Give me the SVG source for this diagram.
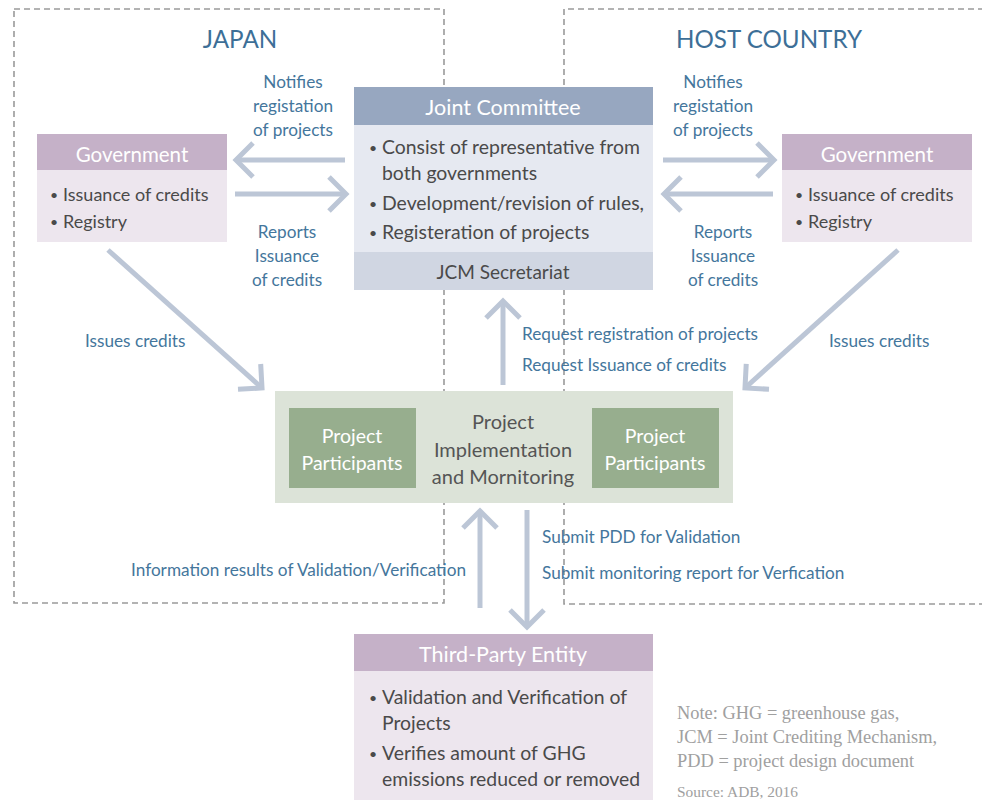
<svg xmlns="http://www.w3.org/2000/svg" width="982" height="800" viewBox="0 0 982 800">
  <style>
    .zone { fill: none; stroke: #9a9a9a; stroke-width: 1.6; stroke-dasharray: 6 4; }
    .title { font-family: Lato, "Open Sans", sans-serif; font-size: 24.2px; fill: #3d6f97; text-anchor: middle; }
    .lbl { font-family: Lato, "Open Sans", sans-serif; font-size: 17.2px; fill: #44769c; }
    .mid { text-anchor: middle; }
    .head { font-family: Lato, "Open Sans", sans-serif; font-size: 21.5px; fill: #ffffff; text-anchor: middle; }
    .body { font-family: Lato, "Open Sans", sans-serif; font-size: 19.4px; fill: #4a4a4a; }
    .dot { font-family: Lato, "Open Sans", sans-serif; font-size: 14px; fill: #4a4a4a; }
    .pp { font-family: Lato, "Open Sans", sans-serif; font-size: 19.5px; fill: #ffffff; text-anchor: middle; }
    .note { font-family: "Liberation Serif", serif; font-size: 18.4px; fill: #a0a0a0; }
    .conn { fill: none; stroke: #bcc6d6; stroke-width: 5; }
  </style>
  <defs>
    <marker id="chev" markerUnits="userSpaceOnUse" viewBox="-22 -22 44 44" markerWidth="44" markerHeight="44" refX="0" refY="0" orient="auto" overflow="visible">
      <path d="M-17,-17 L0,0 L-17,17" fill="none" stroke="#bcc6d6" stroke-width="5"/>
    </marker>
  </defs>

  <rect width="982" height="800" fill="#ffffff"/>

  <!-- country zones -->
  <g id="zone-japan">
    <rect class="zone" x="14" y="9" width="430" height="594"/>
    <text class="title" x="240" y="48">JAPAN</text>
  </g>
  <g id="zone-host">
    <path class="zone" d="M984,9 H564 V604 H984"/>
    <text class="title" x="769" y="48">HOST COUNTRY</text>
  </g>

  <!-- connectors -->
  <g id="connectors">
    <line class="conn" x1="345" y1="160" x2="236" y2="160" marker-end="url(#chev)"/>
    <line class="conn" x1="235" y1="194" x2="346" y2="194" marker-end="url(#chev)"/>
    <line class="conn" x1="663" y1="160" x2="774" y2="160" marker-end="url(#chev)"/>
    <line class="conn" x1="773" y1="194" x2="664" y2="194" marker-end="url(#chev)"/>
    <line class="conn" x1="108" y1="250" x2="262" y2="388" marker-end="url(#chev)"/>
    <line class="conn" x1="898" y1="250" x2="745" y2="388" marker-end="url(#chev)"/>
    <line class="conn" x1="503" y1="385" x2="503" y2="301" marker-end="url(#chev)"/>
    <line class="conn" x1="480" y1="608" x2="480" y2="511" marker-end="url(#chev)"/>
    <line class="conn" x1="527" y1="510" x2="527" y2="627" marker-end="url(#chev)"/>

    <text class="lbl mid" x="293" y="88">Notifies</text>
    <text class="lbl mid" x="293" y="112">registation</text>
    <text class="lbl mid" x="293" y="136">of projects</text>
    <text class="lbl mid" x="287" y="238">Reports</text>
    <text class="lbl mid" x="287" y="262">Issuance</text>
    <text class="lbl mid" x="287" y="286">of credits</text>

    <text class="lbl mid" x="713" y="88">Notifies</text>
    <text class="lbl mid" x="713" y="112">registation</text>
    <text class="lbl mid" x="713" y="136">of projects</text>
    <text class="lbl mid" x="723" y="238">Reports</text>
    <text class="lbl mid" x="723" y="262">Issuance</text>
    <text class="lbl mid" x="723" y="286">of credits</text>

    <text class="lbl" x="85" y="347">Issues credits</text>
    <text class="lbl" x="829" y="347">Issues credits</text>

    <text class="lbl" x="522" y="340">Request registration of projects</text>
    <text class="lbl" x="522" y="371">Request Issuance of credits</text>

    <text class="lbl" x="466" y="576" text-anchor="end">Information results of Validation/Verification</text>
    <text class="lbl" x="542" y="543">Submit PDD for Validation</text>
    <text class="lbl" x="542" y="579">Submit monitoring report for Verfication</text>
  </g>

  <!-- Joint Committee -->
  <g id="joint-committee">
    <rect x="354" y="87" width="299" height="38" fill="#97a7c0"/>
    <rect x="354" y="125" width="299" height="127" fill="#e6e9f1"/>
    <rect x="354" y="252" width="299" height="38" fill="#d0d6e2"/>
    <text class="head" x="503" y="115">Joint Committee</text>
    <text class="dot" x="369" y="153">•</text>
    <text class="body" x="382" y="154">Consist of representative from</text>
    <text class="body" x="382" y="180">both governments</text>
    <text class="dot" x="369" y="209">•</text>
    <text class="body" x="382" y="210">Development/revision of rules,</text>
    <text class="dot" x="369" y="238">•</text>
    <text class="body" x="382" y="239">Registeration of projects</text>
    <text class="body" x="503" y="279" text-anchor="middle" style="font-size:19px">JCM Secretariat</text>
  </g>

  <!-- Japan government -->
  <g id="gov-japan">
    <rect x="37" y="134" width="190" height="36" fill="#c5b1c8"/>
    <rect x="37" y="170" width="190" height="72" fill="#ede6ee"/>
    <text class="head" x="132" y="162" style="font-size:20.5px">Government</text>
    <text class="dot" x="50" y="200">•</text>
    <text class="body" x="63" y="201" style="font-size:18px">Issuance of credits</text>
    <text class="dot" x="50" y="227">•</text>
    <text class="body" x="63" y="228" style="font-size:18px">Registry</text>
  </g>

  <!-- Host country government -->
  <g id="gov-host">
    <rect x="782" y="134" width="190" height="36" fill="#c5b1c8"/>
    <rect x="782" y="170" width="190" height="72" fill="#ede6ee"/>
    <text class="head" x="877" y="162" style="font-size:20.5px">Government</text>
    <text class="dot" x="795" y="200">•</text>
    <text class="body" x="808" y="201" style="font-size:18px">Issuance of credits</text>
    <text class="dot" x="795" y="227">•</text>
    <text class="body" x="808" y="228" style="font-size:18px">Registry</text>
  </g>

  <!-- Project implementation -->
  <g id="project-implementation">
    <rect x="275" y="391" width="458" height="112" fill="#dce3d8"/>
    <text class="body" x="503" y="429" text-anchor="middle" style="fill:#555555;font-size:20px">Project</text>
    <text class="body" x="503" y="457" text-anchor="middle" style="fill:#555555;font-size:20px">Implementation</text>
    <text class="body" x="503" y="484" text-anchor="middle" style="fill:#555555;font-size:20px">and Mornitoring</text>
  </g>
  <g id="participants-japan">
    <rect x="289" y="408" width="127" height="80" fill="#97ae8e"/>
    <text class="pp" x="352" y="443">Project</text>
    <text class="pp" x="352" y="470">Participants</text>
  </g>
  <g id="participants-host">
    <rect x="592" y="408" width="127" height="80" fill="#97ae8e"/>
    <text class="pp" x="655" y="443">Project</text>
    <text class="pp" x="655" y="470">Participants</text>
  </g>

  <!-- Third-party entity -->
  <g id="third-party-entity">
    <rect x="354" y="634" width="299" height="37" fill="#c5b1c8"/>
    <rect x="354" y="671" width="299" height="129" fill="#ede6ee"/>
    <text class="head" x="503" y="662">Third-Party Entity</text>
    <text class="dot" x="369" y="703">•</text>
    <text class="body" x="382" y="704">Validation and Verification of</text>
    <text class="body" x="382" y="730">Projects</text>
    <text class="dot" x="369" y="759">•</text>
    <text class="body" x="382" y="760">Verifies amount of GHG</text>
    <text class="body" x="382" y="786">emissions reduced or removed</text>
  </g>

  <!-- notes -->
  <g id="notes">
    <text class="note" x="677" y="719">Note: GHG = greenhouse gas,</text>
    <text class="note" x="677" y="743">JCM = Joint Crediting Mechanism,</text>
    <text class="note" x="677" y="767">PDD = project design document</text>
    <text class="note" x="677" y="797" style="font-size:15.4px">Source: ADB, 2016</text>
  </g>
</svg>
